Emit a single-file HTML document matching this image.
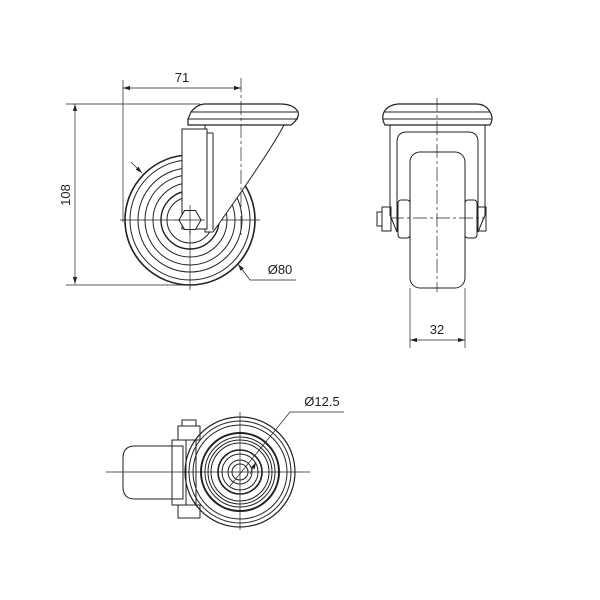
<!DOCTYPE html>
<html><head><style>body{margin:0;background:#fff}svg{display:block}</style></head><body>
<svg width="600" height="600" viewBox="0 0 600 600" xmlns="http://www.w3.org/2000/svg" font-family="Liberation Sans, sans-serif">
<defs><marker id="a" markerWidth="10" markerHeight="6" refX="10" refY="3" orient="auto-start-reverse"><path d="M0,0 L10,3 L0,6 z" fill="#222"/></marker></defs>
<g fill="none" stroke="#222" stroke-width="1">
<!-- FRONT VIEW -->
<line x1="75" y1="104" x2="75" y2="284" stroke-width="0.7" marker-start="url(#a)" marker-end="url(#a)"/>
<line x1="66" y1="104" x2="200" y2="104" stroke-width="0.7"/>
<line x1="66" y1="285" x2="190" y2="285" stroke-width="0.7"/>
<line x1="123" y1="80" x2="123" y2="222" stroke-width="0.7"/>
<line x1="123" y1="88" x2="241" y2="88" stroke-width="0.7" marker-start="url(#a)" marker-end="url(#a)"/>
<circle cx="190" cy="220" r="65" stroke-width="1.6"/>
<circle cx="190" cy="220" r="60"/>
<circle cx="190" cy="220" r="52"/>
<circle cx="190" cy="220" r="45"/>
<circle cx="190" cy="220" r="37"/>
<circle cx="190" cy="220" r="29" stroke-width="1.4"/>
<circle cx="190" cy="220" r="23"/>
<line x1="120" y1="220" x2="260" y2="220" stroke-width="0.7"/>
<line x1="190" y1="140" x2="190" y2="290" stroke-width="0.7"/>
<path d="M284,125 Q270,152 213,232 L205,232 L205,125 Z" fill="#fff"/>
<path d="M188,125 L291,125 Q300,118 298,112 Q294,104 280,104 L204,104 Q196,105 191,112 L188,119 Z" fill="#fff" stroke-width="1.2"/>
<line x1="191" y1="112" x2="297" y2="112"/><line x1="188" y1="119" x2="298" y2="119"/>
<rect x="182" y="129" width="25" height="100" fill="#fff"/>
<line x1="207" y1="133" x2="213" y2="133"/><line x1="213" y1="133" x2="213" y2="230"/>
<polygon points="201,220 195.5,229.5 184.5,229.5 179,220 184.5,210.5 195.5,210.5" fill="#fff"/>
<line x1="175" y1="220" x2="205" y2="220" stroke-width="0.7"/>
<line x1="190" y1="205" x2="190" y2="235" stroke-width="0.7"/>
<line x1="241" y1="78" x2="241" y2="235" stroke-width="0.7" stroke-dasharray="14,3,3,3"/>
<line x1="131" y1="162" x2="142" y2="173" stroke-width="0.7" marker-end="url(#a)"/>
<path d="M238,264 L250,280 L296,280" stroke-width="0.7" marker-start="url(#a)"/>
<!-- SIDE VIEW -->
<path d="M385,125 L490,125 Q494,118 490,112 Q486,104 476,104 L398,104 Q388,105 384,112 Q381,118 385,125 Z" fill="#fff" stroke-width="1.2"/>
<line x1="384" y1="112" x2="490" y2="112"/><line x1="383" y1="119" x2="492" y2="119"/>
<path d="M390,125 L390,215 L397,232 L397,142 Q397,132 407,132 L468,132 Q478,132 478,142 L478,232 L485,215 L485,125"/>
<rect x="410" y="152" width="55" height="136" rx="10" fill="#fff"/>
<rect x="398" y="200" width="12" height="38" rx="3"/>
<rect x="465" y="200" width="12" height="38" rx="3"/>
<rect x="382" y="207" width="9" height="24"/>
<rect x="377" y="212" width="5" height="14"/>
<rect x="478" y="207" width="8" height="24"/>
<line x1="390" y1="218" x2="485" y2="218" stroke-width="0.7" stroke-dasharray="14,3,3,3"/>
<line x1="437" y1="98" x2="437" y2="292" stroke-width="0.7" stroke-dasharray="14,3,3,3"/>
<line x1="410" y1="288" x2="410" y2="348" stroke-width="0.7"/>
<line x1="465" y1="288" x2="465" y2="348" stroke-width="0.7"/>
<line x1="410" y1="340" x2="465" y2="340" stroke-width="0.7" marker-start="url(#a)" marker-end="url(#a)"/>
<!-- TOP VIEW -->
<path d="M183,446 L135,446 Q123,446 123,458 L123,487 Q123,499 135,499 L183,499 Z" fill="#fff"/>
<rect x="172" y="440" width="14" height="65"/>
<rect x="186" y="440" width="10" height="65"/>
<rect x="178" y="426" width="22" height="14"/><rect x="182" y="420" width="14" height="6"/>
<rect x="178" y="505" width="22" height="13"/>
<circle cx="240" cy="472" r="55" stroke-width="1.2"/>
<circle cx="240" cy="472" r="51"/>
<circle cx="240" cy="472" r="47"/>
<circle cx="240" cy="472" r="39" stroke-width="2"/>
<circle cx="240" cy="472" r="35"/>
<circle cx="240" cy="472" r="32"/>
<circle cx="240" cy="472" r="29"/>
<circle cx="240" cy="472" r="22" stroke-width="1.6"/>
<circle cx="240" cy="472" r="18"/>
<circle cx="240" cy="472" r="12"/>
<circle cx="240" cy="472" r="8"/>
<line x1="106" y1="472" x2="310" y2="472" stroke-width="0.7"/>
<line x1="240" y1="412" x2="240" y2="530" stroke-width="0.7"/>
<path d="M344,412 L290,412 L230,486" stroke-width="0.7"/>
<line x1="250" y1="474" x2="256" y2="462" stroke-width="0.7" marker-end="url(#a)"/>
</g>
<g fill="#222" font-size="13">
<text x="182" y="82" text-anchor="middle">71</text>
<text x="70" y="195" text-anchor="middle" transform="rotate(-90 70 195)">108</text>
<text x="280" y="274" text-anchor="middle">Ø80</text>
<text x="437" y="334" text-anchor="middle">32</text>
<text x="322" y="406" text-anchor="middle">Ø12.5</text>
</g>
</svg>
</body></html>
